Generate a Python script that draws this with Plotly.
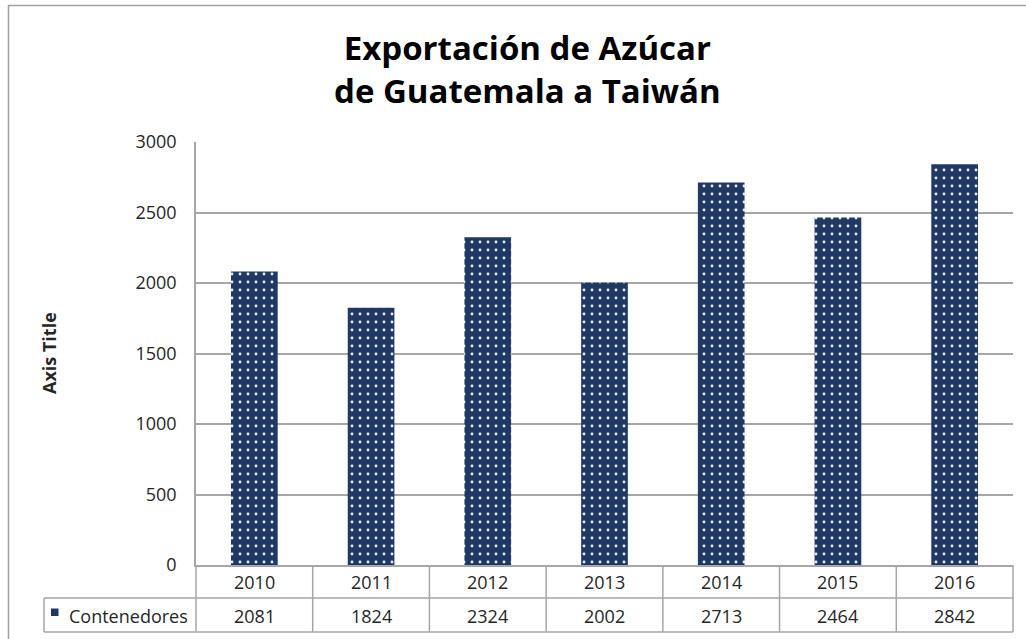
import plotly.graph_objects as go

years = ["2010", "2011", "2012", "2013", "2014", "2015", "2016"]
contenedores = [2081, 1824, 2324, 2002, 2713, 2464, 2842]
series_name = "Contenedores"
title_lines = ["Exportación de Azúcar", "de Guatemala a Taiwán"]
y_ticks = [0, 500, 1000, 1500, 2000, 2500, 3000]

W, H = 1026, 639
L, R, T, B = 196, 1013, 142, 565  # plot area in px
FONT = "Open Sans"
NAVY = "#1f3864"
GRID = "#a6a6a6"
TXT = "#262626"

def px(x):
    return (x - L) / (R - L)

def py(y):
    return (B - y) / (B - T)

fig = go.Figure()
fig.add_trace(go.Bar(
    x=years, y=contenedores, name=series_name,
    marker=dict(color=NAVY, line=dict(width=0),
                pattern=dict(shape=".", fgcolor="#e8edf5", bgcolor=NAVY,
                             size=8, solidity=0.1, fillmode="replace")),
    showlegend=False,
))

shapes = []
# outer chart border
shapes.append(dict(type="rect", xref="paper", yref="paper",
                   x0=px(8.5), x1=px(W + 20), y0=py(5.5), y1=py(H + 20),
                   line=dict(color="#a0a0a0", width=1.5), fillcolor="rgba(0,0,0,0)", layer="below"))
# data table lines
tl = dict(color=GRID, width=1.5)
shapes.append(dict(type="line", xref="paper", yref="paper", x0=px(44), x1=1, y0=py(598), y1=py(598), line=tl))
shapes.append(dict(type="line", xref="paper", yref="paper", x0=px(44), x1=1, y0=py(632), y1=py(632), line=tl))
shapes.append(dict(type="line", xref="paper", yref="paper", x0=px(44), x1=px(44), y0=py(598), y1=py(632), line=tl))
for i in range(len(years) + 1):
    xx = i / len(years)
    shapes.append(dict(type="line", xref="paper", yref="paper", x0=xx, x1=xx, y0=0, y1=py(632), line=tl))
# legend key
shapes.append(dict(type="rect", xref="paper", yref="paper", x0=px(51), x1=px(58.5), y0=py(616), y1=py(608.5),
                   line=dict(width=0), fillcolor=NAVY))

annotations = []
for i, (yr, v) in enumerate(zip(years, contenedores)):
    annotations.append(dict(x=i, xref="x", y=py(582), yref="paper", text=yr, showarrow=False,
                            font=dict(family=FONT, size=18, color=TXT), yanchor="middle"))
    annotations.append(dict(x=i, xref="x", y=py(615.5), yref="paper", text=str(v), showarrow=False,
                            font=dict(family=FONT, size=18, color=TXT), yanchor="middle"))
annotations.append(dict(x=px(67), xref="paper", y=py(615.5), yref="paper", text=series_name, showarrow=False,
                        xanchor="left", yanchor="middle", font=dict(family=FONT, size=18, color=TXT)))
annotations.append(dict(x=px(49), xref="paper", y=py(353), yref="paper", text="<b>Axis Title</b>", showarrow=False,
                        textangle=-90, xanchor="center", yanchor="middle",
                        font=dict(family=FONT, size=18, color=TXT)))

fig.update_layout(
    width=W, height=H,
    margin=dict(l=L, r=W - R, t=T, b=H - B),
    paper_bgcolor="white", plot_bgcolor="white",
    title=dict(text="<b>" + "<br>".join(title_lines) + "</b>", x=0.514, xanchor="center",
               y=1 - 60 / H, yanchor="middle",
               font=dict(family=FONT, size=33, color="#000000")),
    bargap=0.6,
    shapes=shapes, annotations=annotations,
    xaxis=dict(type="category", range=[-0.5, len(years) - 0.5], showticklabels=False,
               showline=True, linecolor=GRID, linewidth=1.5,
               ticks="", showgrid=False, zeroline=False),
    yaxis=dict(range=[0, 3000], tickvals=y_ticks, showgrid=True, gridcolor=GRID, gridwidth=1.5,
               showline=True, linecolor=GRID, linewidth=1.5, zeroline=False, ticks="",
               ticklabelstandoff=14,
               tickfont=dict(family=FONT, size=18, color=TXT)),
)

fig.write_html("out.html", config={"displayModeBar": False},
               post_script="document.body.style.margin='0';")
